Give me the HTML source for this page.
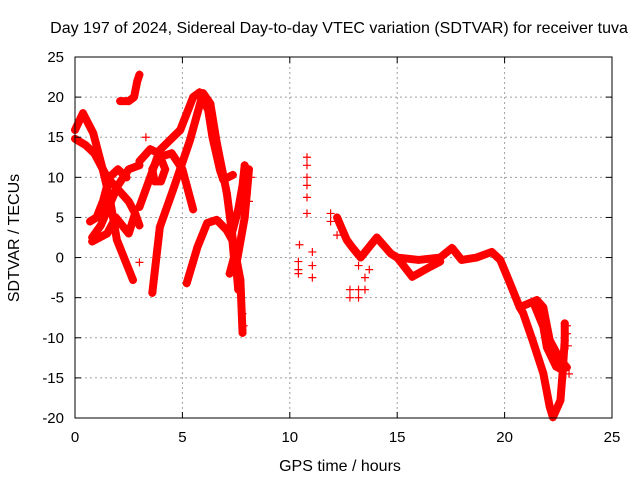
<!DOCTYPE html>
<html><head><meta charset="utf-8"><style>
body{margin:0;background:#fff}
svg{display:block;font-family:"Liberation Sans",sans-serif}
</style></head><body>
<svg id="c" width="640" height="480">
<text x="339" y="33" text-anchor="middle" font-size="16">Day 197 of 2024, Sidereal Day-to-day VTEC variation (SDTVAR) for receiver tuva</text>
<text x="340" y="471" text-anchor="middle" font-size="16">GPS time / hours</text>
<text transform="translate(19,238) rotate(-90)" text-anchor="middle" font-size="16">SDTVAR / TECUs</text>
<g id="grid"></g><g id="marks"></g><g id="axes"></g>
</svg>
<script>
const xTicks=[0,5,10,15,20,25];
const yTicks=[-20,-15,-10,-5,0,5,10,15,20,25];
const trackA=[[0,15.9],[0.37,18],[0.85,15.5],[1.3,10.9],[1.63,7.2],[1.95,2.2],[2.7,-2.8]];
const trackB=[[0,14.8],[0.5,14],[0.9,13],[1.2,11.5],[1.5,10],[2,8.5],[2.5,7],[2.8,5.5],[3,4]];
const trackC=[[0.8,2.5],[1.2,4],[1.6,6.5],[2,9],[2.5,11],[3,11.5]];
const trackD=[[0.7,4.5],[1,5],[1.3,7],[1.6,10],[2,11],[2.4,10]];
const trackE=[[0.8,2],[1.5,3],[1.9,5],[2.2,4],[2.5,3],[2.8,5.5]];
const trackTop=[[2.1,19.5],[2.5,19.5],[2.75,20],[2.9,22],[3,22.8]];
const trackF=[[3.6,-4.4],[3.95,3.8],[4.56,8.4],[5.35,14.6],[5.96,20.5],[6.3,19.2],[6.6,14.3],[7.07,8],[7.35,2.2],[7.7,-2.8],[7.8,-9.4]];
const trackG=[[3,6.3],[3.5,10],[3.95,13.4],[4.9,15.9],[5.5,20],[5.8,20.6],[6.2,18.4],[6.4,15],[6.75,10.9],[6.9,9.7],[7.35,10.3]];
const trackH=[[5.2,-3.2],[5.7,1.3],[6.15,4.3],[6.6,4.7],[7.07,3.4],[7.5,1.3]];
const trackLoop=[[3,12],[3.5,13.5],[3.9,13],[4.2,11],[4,9.5],[3.7,9.5],[3.6,11],[3.9,12.5],[4.5,13],[5,11],[5.2,9],[5.5,6]];
const trackI=[[7.6,-4],[7.5,-1],[7.7,2],[7.9,5],[8,8],[8.1,11]];
const trackJ=[[7.2,-2],[7.4,0],[7.3,3],[7.6,6],[7.8,9],[7.9,11.5]];
const trackMain=[[12.2,5],[12.65,2.2],[12.9,1.3],[13.3,0],[13.6,1],[14.05,2.5],[14.7,0.5],[15,0],[16,-0.3],[17,0],[17.55,1.2],[18,-0.3],[18.7,0],[19.4,0.7],[19.8,-0.3],[20.25,-3.2],[20.7,-6.2],[21.5,-5.3],[21.8,-6.2],[22.1,-10.3],[22.6,-12.8],[22.9,-13.7]];
const trackLow=[[15,0],[15.7,-2.4],[16.5,-1.2],[17,-0.5]];
const trackInner=[[20.7,-6.2],[20.86,-6.9],[21.3,-10.3],[21.8,-14.4],[22.1,-18.6],[22.25,-19.9],[22.6,-17.8],[22.7,-14.4],[22.8,-10.3],[22.8,-8.2]];
const trackInner2=[[21.4,-6],[21.8,-8.6],[21.97,-11.2],[22.4,-13.6],[22.7,-14]];
const scatterPts=[[3.3,15],[3,-0.6],[7.8,-7],[7.85,-8.5],[7.8,-9],[8.2,10],[8.1,7],[10.4,-0.5],[10.4,-1.5],[10.4,-2],[10.45,1.6],[10.8,12.5],[10.8,11.5],[10.8,10],[10.8,9],[10.8,7.5],[10.8,5.5],[11.05,0.7],[11.05,-1],[11.05,-2.5],[11.9,5.5],[11.9,4.5],[12.2,2.8],[12.8,-4],[12.8,-5],[13.2,-4],[13.2,-5],[13.5,-2.5],[13.5,-4],[13.7,-1.5],[13.2,-1],[22.9,-8.5],[22.9,-9.5],[22.95,-11],[23,-14.5]];
const tracks=[trackA,trackB,trackC,trackD,trackE,trackTop,trackF,trackG,trackH,trackLoop,trackI,trackJ,trackMain,trackLow,trackInner,trackInner2];
const L=75,R=612,T=57,B=418,xmin=0,xmax=25,ymin=-20,ymax=25;
const xs=v=>L+(v-xmin)/(xmax-xmin)*(R-L);
const ys=v=>B-(v-ymin)/(ymax-ymin)*(B-T);
const NS="http://www.w3.org/2000/svg";
function mk(t,a,p){const e=document.createElementNS(NS,t);for(const k in a)e.setAttribute(k,a[k]);p.appendChild(e);return e;}
const grid=document.getElementById('grid'),axes=document.getElementById('axes'),marks=document.getElementById('marks');
xTicks.forEach(v=>{
 if(v>xmin&&v<xmax){const g=mk('line',{x1:xs(v),x2:xs(v),y1:T,y2:B,stroke:'#a0a0a0','stroke-dasharray':'2,3'},grid);
 
 }
 const t=mk('text',{x:xs(v),y:B+24,'text-anchor':'middle','font-size':15},axes);t.textContent=v;
 
 
 mk('line',{x1:xs(v),x2:xs(v),y1:B,y2:B-6,stroke:'#000'},axes);
 mk('line',{x1:xs(v),x2:xs(v),y1:T,y2:T+6,stroke:'#000'},axes);
});
yTicks.forEach(v=>{
 if(v>ymin&&v<ymax){const g=mk('line',{x1:L,x2:R,y1:ys(v),y2:ys(v),stroke:'#a0a0a0','stroke-dasharray':'2,3'},grid);
 
 }
 const t=mk('text',{x:L-11,y:ys(v)+5,'text-anchor':'end','font-size':15},axes);t.textContent=v;
 
 
 mk('line',{x1:L,x2:L+6,y1:ys(v),y2:ys(v),stroke:'#000'},axes);
 mk('line',{x1:R,x2:R-6,y1:ys(v),y2:ys(v),stroke:'#000'},axes);
});
const frame=mk('rect',{x:L,y:T,width:R-L,height:B-T,fill:'none',stroke:'#000'},axes);


function plus(h,v){const x=xs(h),y=ys(v);
 const p=mk('path',{d:`M${x-4},${y}H${x+4}M${x},${y-4}V${y+4}`,stroke:'#f00','stroke-width':1.2},marks);
 
 }
tracks.forEach(tr=>{
 const pl=mk('polyline',{points:tr.map(p=>xs(p[0])+','+ys(p[1])).join(' '),fill:'none',stroke:'#f00','stroke-width':8,'stroke-linejoin':'round','stroke-linecap':'round'},marks);
 
 
 tr.forEach(p=>plus(p[0],p[1]));
});
scatterPts.forEach(p=>plus(p[0],p[1]));
</script>
</body></html>
